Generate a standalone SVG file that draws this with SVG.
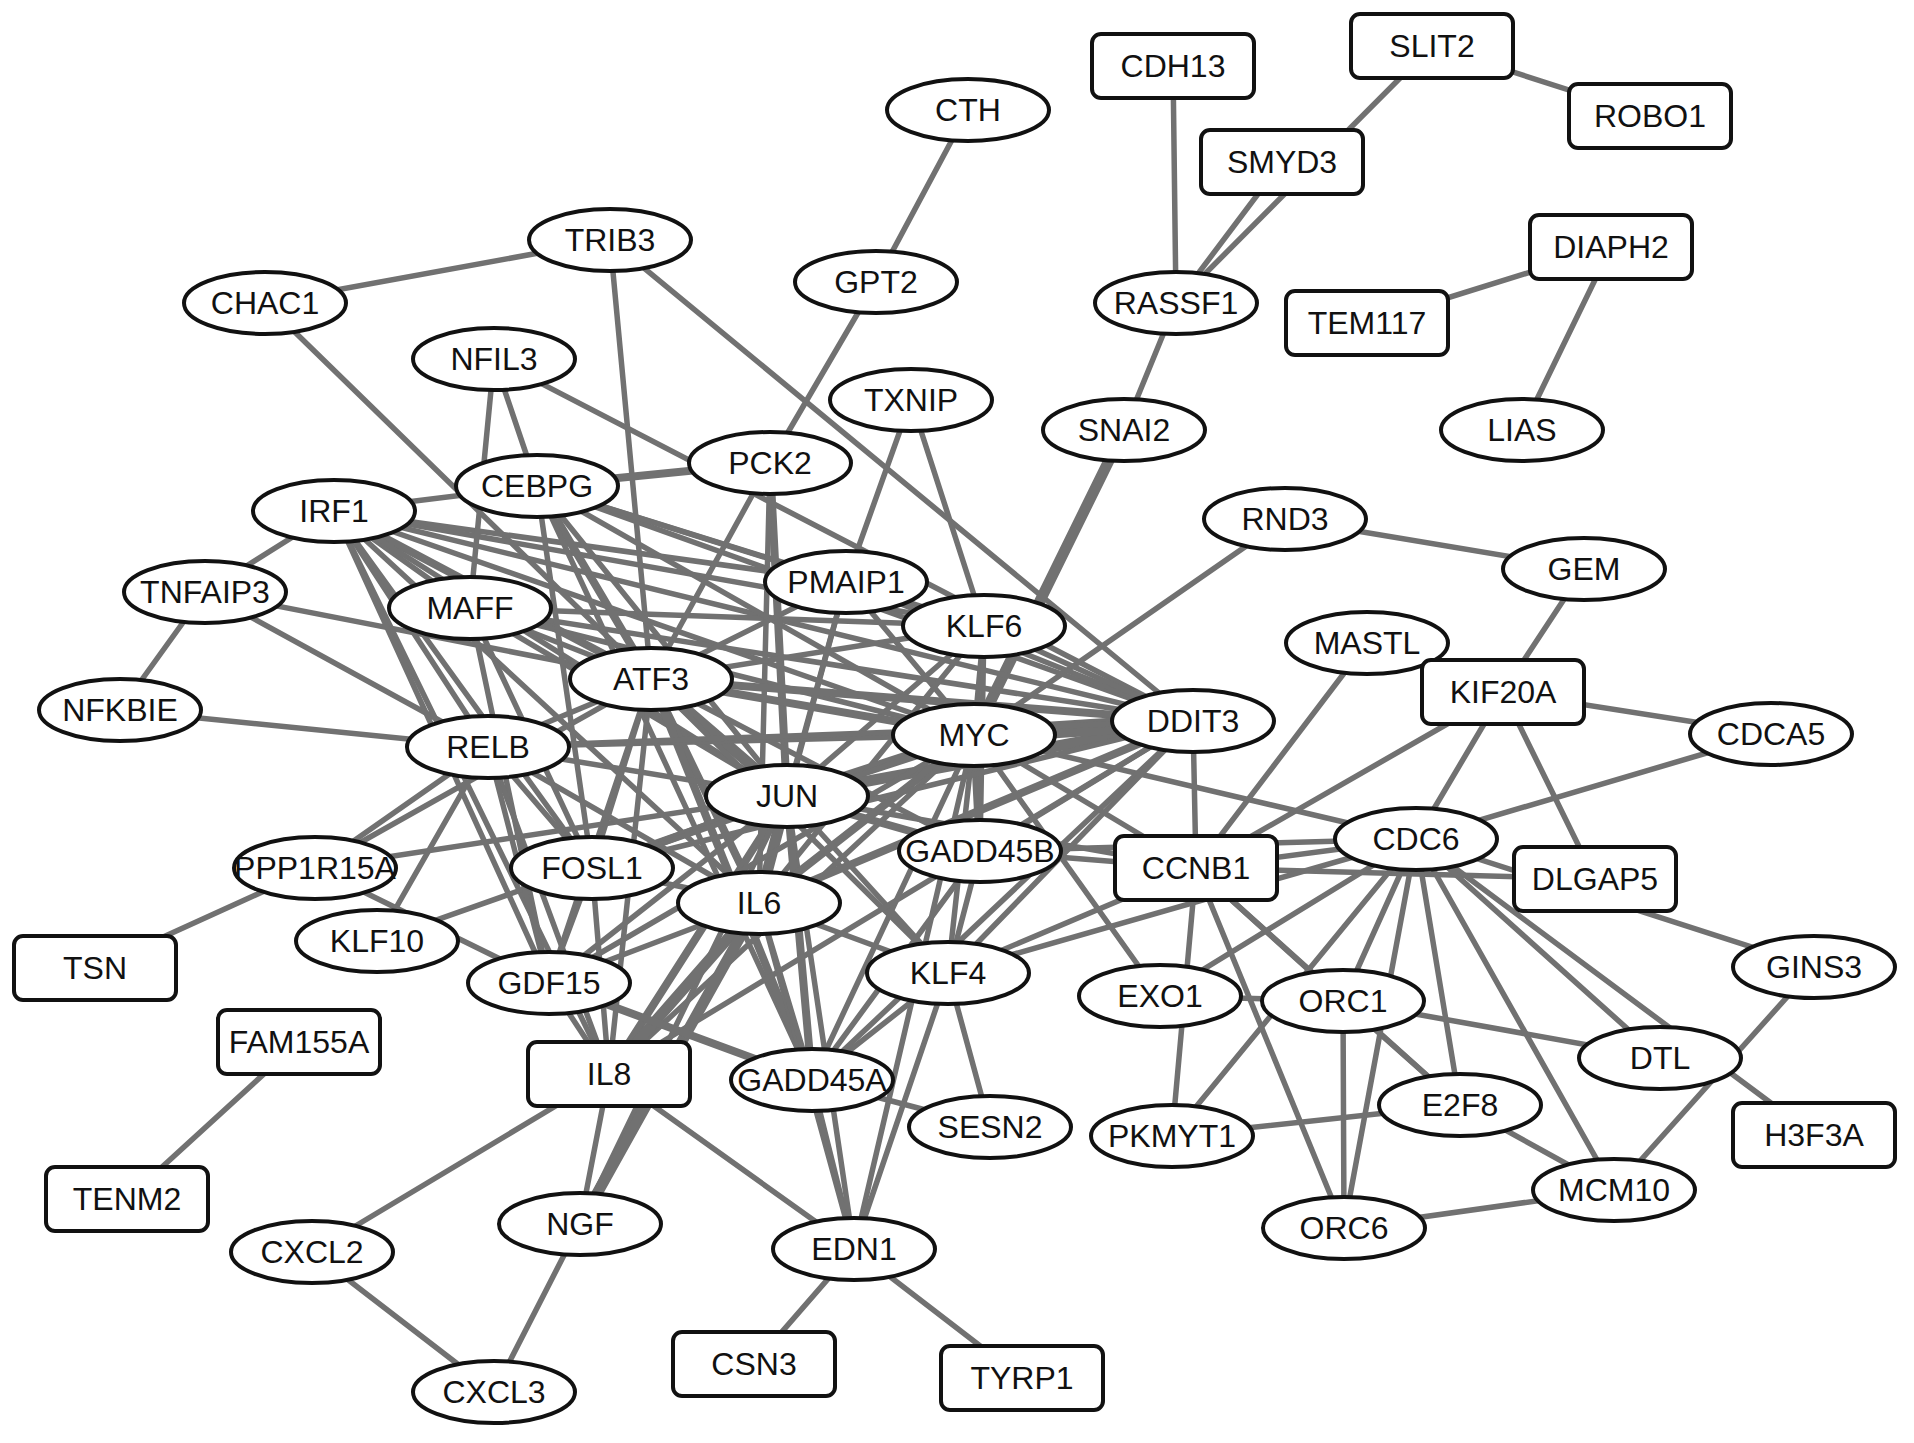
<svg xmlns="http://www.w3.org/2000/svg" width="1914" height="1443" viewBox="0 0 1914 1443">
<style>
.bg{fill:#fff}
#edges line{stroke:#717171;stroke-width:5.5;stroke-linecap:round}
#edges line.m{stroke-width:8}
#edges line.t{stroke-width:11}
#edges line.x{stroke-width:17}
.n ellipse,.n rect{fill:#fff;stroke:#111;stroke-width:4}
.n text{font-family:"Liberation Sans",Arial,sans-serif;font-size:32px;fill:#111;text-anchor:middle}
</style>
<rect class="bg" x="0" y="0" width="1914" height="1443"/>
<g id="edges">
<line x1="968" y1="110" x2="876" y2="282"/>
<line x1="876" y1="282" x2="770" y2="463"/>
<line x1="610" y1="240" x2="265" y2="303"/>
<line x1="610" y1="240" x2="651" y2="679"/>
<line x1="610" y1="240" x2="1193" y2="721"/>
<line x1="265" y1="303" x2="651" y2="679"/>
<line x1="1173" y1="66" x2="1176" y2="303"/>
<line x1="1282" y1="162" x2="1176" y2="303"/>
<line x1="1432" y1="46" x2="1176" y2="303"/>
<line x1="1432" y1="46" x2="1650" y2="116"/>
<line x1="1611" y1="247" x2="1367" y2="323"/>
<line x1="1611" y1="247" x2="1522" y2="430"/>
<line x1="1176" y1="303" x2="1124" y2="430"/>
<line class="t" x1="1124" y1="430" x2="974" y2="735"/>
<line x1="1285" y1="519" x2="1584" y2="569"/>
<line x1="1285" y1="519" x2="974" y2="735"/>
<line x1="1584" y1="569" x2="1503" y2="692"/>
<line x1="1503" y1="692" x2="1771" y2="734"/>
<line x1="1503" y1="692" x2="1595" y2="879"/>
<line x1="1503" y1="692" x2="1416" y2="839"/>
<line x1="1503" y1="692" x2="1196" y2="868"/>
<line x1="1367" y1="643" x2="1196" y2="868"/>
<line x1="1771" y1="734" x2="1416" y2="839"/>
<line x1="1416" y1="839" x2="1814" y2="967"/>
<line x1="1416" y1="839" x2="1196" y2="868"/>
<line x1="1196" y1="868" x2="1595" y2="879"/>
<line x1="1814" y1="967" x2="1614" y2="1190"/>
<line x1="1416" y1="839" x2="1814" y2="1135"/>
<line x1="1416" y1="839" x2="1660" y2="1058"/>
<line x1="1416" y1="839" x2="1614" y2="1190"/>
<line x1="1416" y1="839" x2="1460" y2="1105"/>
<line x1="1416" y1="839" x2="1344" y2="1228"/>
<line x1="1416" y1="839" x2="1343" y2="1001"/>
<line x1="1416" y1="839" x2="1172" y2="1136"/>
<line x1="1416" y1="839" x2="1160" y2="996"/>
<line x1="1196" y1="868" x2="1343" y2="1001"/>
<line x1="1196" y1="868" x2="1460" y2="1105"/>
<line x1="1343" y1="1001" x2="1460" y2="1105"/>
<line x1="1343" y1="1001" x2="1344" y2="1228"/>
<line x1="1196" y1="868" x2="1344" y2="1228"/>
<line x1="1196" y1="868" x2="1172" y2="1136"/>
<line x1="1160" y1="996" x2="1343" y2="1001"/>
<line x1="1172" y1="1136" x2="1460" y2="1105"/>
<line x1="1460" y1="1105" x2="1614" y2="1190"/>
<line x1="1344" y1="1228" x2="1614" y2="1190"/>
<line x1="1343" y1="1001" x2="1660" y2="1058"/>
<line x1="974" y1="735" x2="1160" y2="996"/>
<line x1="974" y1="735" x2="1416" y2="839"/>
<line x1="974" y1="735" x2="1196" y2="868"/>
<line x1="1193" y1="721" x2="1196" y2="868"/>
<line x1="980" y1="851" x2="1196" y2="868"/>
<line x1="980" y1="851" x2="1416" y2="839"/>
<line x1="948" y1="973" x2="1196" y2="868"/>
<line x1="948" y1="973" x2="1416" y2="839"/>
<line x1="787" y1="796" x2="1196" y2="868"/>
<line x1="315" y1="868" x2="95" y2="968"/>
<line x1="299" y1="1042" x2="127" y2="1199"/>
<line x1="312" y1="1252" x2="494" y2="1392"/>
<line x1="580" y1="1224" x2="494" y2="1392"/>
<line x1="609" y1="1074" x2="312" y2="1252"/>
<line x1="609" y1="1074" x2="580" y2="1224"/>
<line x1="854" y1="1249" x2="754" y2="1364"/>
<line x1="854" y1="1249" x2="1022" y2="1378"/>
<line x1="609" y1="1074" x2="854" y2="1249"/>
<line x1="812" y1="1080" x2="854" y2="1249"/>
<line x1="948" y1="973" x2="854" y2="1249"/>
<line x1="974" y1="735" x2="854" y2="1249"/>
<line x1="787" y1="796" x2="854" y2="1249"/>
<line x1="812" y1="1080" x2="990" y2="1127"/>
<line x1="948" y1="973" x2="990" y2="1127"/>
<line x1="205" y1="592" x2="120" y2="710"/>
<line x1="205" y1="592" x2="334" y2="511"/>
<line x1="120" y1="710" x2="488" y2="747"/>
<line x1="205" y1="592" x2="488" y2="747"/>
<line x1="205" y1="592" x2="651" y2="679"/>
<line x1="334" y1="511" x2="537" y2="486"/>
<line x1="334" y1="511" x2="470" y2="608"/>
<line x1="334" y1="511" x2="488" y2="747"/>
<line class="m" x1="334" y1="511" x2="651" y2="679"/>
<line x1="334" y1="511" x2="787" y2="796"/>
<line x1="334" y1="511" x2="974" y2="735"/>
<line x1="334" y1="511" x2="1193" y2="721"/>
<line x1="334" y1="511" x2="984" y2="626"/>
<line x1="334" y1="511" x2="846" y2="582"/>
<line x1="334" y1="511" x2="759" y2="903"/>
<line x1="334" y1="511" x2="609" y2="1074"/>
<line x1="334" y1="511" x2="592" y2="868"/>
<line x1="334" y1="511" x2="549" y2="983"/>
<line x1="494" y1="359" x2="470" y2="608"/>
<line x1="494" y1="359" x2="537" y2="486"/>
<line x1="494" y1="359" x2="1193" y2="721"/>
<line x1="470" y1="608" x2="651" y2="679"/>
<line x1="470" y1="608" x2="787" y2="796"/>
<line x1="470" y1="608" x2="974" y2="735"/>
<line x1="470" y1="608" x2="1193" y2="721"/>
<line x1="470" y1="608" x2="984" y2="626"/>
<line x1="470" y1="608" x2="592" y2="868"/>
<line x1="470" y1="608" x2="549" y2="983"/>
<line class="m" x1="537" y1="486" x2="770" y2="463"/>
<line class="m" x1="537" y1="486" x2="651" y2="679"/>
<line x1="537" y1="486" x2="787" y2="796"/>
<line x1="537" y1="486" x2="974" y2="735"/>
<line x1="537" y1="486" x2="1193" y2="721"/>
<line x1="537" y1="486" x2="592" y2="868"/>
<line x1="537" y1="486" x2="812" y2="1080"/>
<line x1="537" y1="486" x2="846" y2="582"/>
<line x1="537" y1="486" x2="984" y2="626"/>
<line x1="770" y1="463" x2="651" y2="679"/>
<line class="m" x1="770" y1="463" x2="787" y2="796"/>
<line x1="770" y1="463" x2="759" y2="903"/>
<line x1="846" y1="582" x2="911" y2="400"/>
<line x1="846" y1="582" x2="651" y2="679"/>
<line x1="846" y1="582" x2="787" y2="796"/>
<line x1="846" y1="582" x2="974" y2="735"/>
<line x1="846" y1="582" x2="1193" y2="721"/>
<line x1="846" y1="582" x2="759" y2="903"/>
<line x1="911" y1="400" x2="984" y2="626"/>
<line x1="984" y1="626" x2="974" y2="735"/>
<line x1="984" y1="626" x2="651" y2="679"/>
<line x1="984" y1="626" x2="787" y2="796"/>
<line x1="984" y1="626" x2="1193" y2="721"/>
<line x1="984" y1="626" x2="759" y2="903"/>
<line x1="984" y1="626" x2="980" y2="851"/>
<line class="t" x1="651" y1="679" x2="787" y2="796"/>
<line class="m" x1="651" y1="679" x2="974" y2="735"/>
<line class="m" x1="651" y1="679" x2="1193" y2="721"/>
<line x1="651" y1="679" x2="592" y2="868"/>
<line class="m" x1="651" y1="679" x2="759" y2="903"/>
<line x1="651" y1="679" x2="609" y2="1074"/>
<line x1="651" y1="679" x2="549" y2="983"/>
<line class="m" x1="651" y1="679" x2="812" y2="1080"/>
<line x1="651" y1="679" x2="980" y2="851"/>
<line x1="651" y1="679" x2="948" y2="973"/>
<line x1="651" y1="679" x2="488" y2="747"/>
<line x1="651" y1="679" x2="315" y2="868"/>
<line class="t" x1="787" y1="796" x2="974" y2="735"/>
<line class="t" x1="787" y1="796" x2="1193" y2="721"/>
<line class="t" x1="787" y1="796" x2="759" y2="903"/>
<line class="m" x1="787" y1="796" x2="609" y2="1074"/>
<line class="m" x1="787" y1="796" x2="592" y2="868"/>
<line x1="787" y1="796" x2="488" y2="747"/>
<line class="m" x1="787" y1="796" x2="812" y2="1080"/>
<line class="m" x1="787" y1="796" x2="980" y2="851"/>
<line x1="787" y1="796" x2="948" y2="973"/>
<line x1="787" y1="796" x2="549" y2="983"/>
<line x1="787" y1="796" x2="315" y2="868"/>
<line x1="787" y1="796" x2="580" y2="1224"/>
<line x1="787" y1="796" x2="377" y2="941"/>
<line class="x" x1="974" y1="735" x2="1193" y2="721"/>
<line x1="974" y1="735" x2="812" y2="1080"/>
<line class="m" x1="974" y1="735" x2="980" y2="851"/>
<line x1="974" y1="735" x2="948" y2="973"/>
<line class="m" x1="974" y1="735" x2="759" y2="903"/>
<line x1="974" y1="735" x2="609" y2="1074"/>
<line x1="974" y1="735" x2="488" y2="747"/>
<line x1="974" y1="735" x2="592" y2="868"/>
<line x1="974" y1="735" x2="549" y2="983"/>
<line x1="1193" y1="721" x2="812" y2="1080"/>
<line x1="1193" y1="721" x2="980" y2="851"/>
<line class="m" x1="1193" y1="721" x2="759" y2="903"/>
<line x1="1193" y1="721" x2="609" y2="1074"/>
<line x1="1193" y1="721" x2="592" y2="868"/>
<line x1="1193" y1="721" x2="488" y2="747"/>
<line x1="1193" y1="721" x2="948" y2="973"/>
<line class="t" x1="759" y1="903" x2="609" y2="1074"/>
<line x1="759" y1="903" x2="488" y2="747"/>
<line x1="759" y1="903" x2="592" y2="868"/>
<line x1="759" y1="903" x2="549" y2="983"/>
<line x1="759" y1="903" x2="854" y2="1249"/>
<line class="t" x1="759" y1="903" x2="580" y2="1224"/>
<line x1="759" y1="903" x2="948" y2="973"/>
<line x1="759" y1="903" x2="812" y2="1080"/>
<line x1="609" y1="1074" x2="549" y2="983"/>
<line x1="609" y1="1074" x2="592" y2="868"/>
<line x1="609" y1="1074" x2="488" y2="747"/>
<line x1="488" y1="747" x2="315" y2="868"/>
<line x1="488" y1="747" x2="592" y2="868"/>
<line x1="488" y1="747" x2="549" y2="983"/>
<line x1="488" y1="747" x2="377" y2="941"/>
<line x1="592" y1="868" x2="549" y2="983"/>
<line x1="549" y1="983" x2="315" y2="868"/>
<line class="m" x1="549" y1="983" x2="812" y2="1080"/>
<line x1="812" y1="1080" x2="948" y2="973"/>
<line x1="812" y1="1080" x2="980" y2="851"/>
<line x1="948" y1="973" x2="980" y2="851"/>
</g>
<g id="nodes">
<g class="n" id="n-CTH"><ellipse cx="968" cy="110" rx="81" ry="31"/><text x="968" y="121">CTH</text></g>
<g class="n" id="n-TRIB3"><ellipse cx="610" cy="240" rx="81" ry="31"/><text x="610" y="251">TRIB3</text></g>
<g class="n" id="n-CHAC1"><ellipse cx="265" cy="303" rx="81" ry="31"/><text x="265" y="314">CHAC1</text></g>
<g class="n" id="n-GPT2"><ellipse cx="876" cy="282" rx="81" ry="31"/><text x="876" y="293">GPT2</text></g>
<g class="n" id="n-RASSF1"><ellipse cx="1176" cy="303" rx="81" ry="31"/><text x="1176" y="314">RASSF1</text></g>
<g class="n" id="n-NFIL3"><ellipse cx="494" cy="359" rx="81" ry="31"/><text x="494" y="370">NFIL3</text></g>
<g class="n" id="n-TXNIP"><ellipse cx="911" cy="400" rx="81" ry="31"/><text x="911" y="411">TXNIP</text></g>
<g class="n" id="n-SNAI2"><ellipse cx="1124" cy="430" rx="81" ry="31"/><text x="1124" y="441">SNAI2</text></g>
<g class="n" id="n-LIAS"><ellipse cx="1522" cy="430" rx="81" ry="31"/><text x="1522" y="441">LIAS</text></g>
<g class="n" id="n-CEBPG"><ellipse cx="537" cy="486" rx="81" ry="31"/><text x="537" y="497">CEBPG</text></g>
<g class="n" id="n-PCK2"><ellipse cx="770" cy="463" rx="81" ry="31"/><text x="770" y="474">PCK2</text></g>
<g class="n" id="n-IRF1"><ellipse cx="334" cy="511" rx="81" ry="31"/><text x="334" y="522">IRF1</text></g>
<g class="n" id="n-RND3"><ellipse cx="1285" cy="519" rx="81" ry="31"/><text x="1285" y="530">RND3</text></g>
<g class="n" id="n-GEM"><ellipse cx="1584" cy="569" rx="81" ry="31"/><text x="1584" y="580">GEM</text></g>
<g class="n" id="n-PMAIP1"><ellipse cx="846" cy="582" rx="81" ry="31"/><text x="846" y="593">PMAIP1</text></g>
<g class="n" id="n-TNFAIP3"><ellipse cx="205" cy="592" rx="81" ry="31"/><text x="205" y="603">TNFAIP3</text></g>
<g class="n" id="n-MAFF"><ellipse cx="470" cy="608" rx="81" ry="31"/><text x="470" y="619">MAFF</text></g>
<g class="n" id="n-KLF6"><ellipse cx="984" cy="626" rx="81" ry="31"/><text x="984" y="637">KLF6</text></g>
<g class="n" id="n-MASTL"><ellipse cx="1367" cy="643" rx="81" ry="31"/><text x="1367" y="654">MASTL</text></g>
<g class="n" id="n-ATF3"><ellipse cx="651" cy="679" rx="81" ry="31"/><text x="651" y="690">ATF3</text></g>
<g class="n" id="n-NFKBIE"><ellipse cx="120" cy="710" rx="81" ry="31"/><text x="120" y="721">NFKBIE</text></g>
<g class="n" id="n-DDIT3"><ellipse cx="1193" cy="721" rx="81" ry="31"/><text x="1193" y="732">DDIT3</text></g>
<g class="n" id="n-MYC"><ellipse cx="974" cy="735" rx="81" ry="31"/><text x="974" y="746">MYC</text></g>
<g class="n" id="n-CDCA5"><ellipse cx="1771" cy="734" rx="81" ry="31"/><text x="1771" y="745">CDCA5</text></g>
<g class="n" id="n-RELB"><ellipse cx="488" cy="747" rx="81" ry="31"/><text x="488" y="758">RELB</text></g>
<g class="n" id="n-JUN"><ellipse cx="787" cy="796" rx="81" ry="31"/><text x="787" y="807">JUN</text></g>
<g class="n" id="n-CDC6"><ellipse cx="1416" cy="839" rx="81" ry="31"/><text x="1416" y="850">CDC6</text></g>
<g class="n" id="n-GADD45B"><ellipse cx="980" cy="851" rx="81" ry="31"/><text x="980" y="862">GADD45B</text></g>
<g class="n" id="n-PPP1R15A"><ellipse cx="315" cy="868" rx="81" ry="31"/><text x="315" y="879">PPP1R15A</text></g>
<g class="n" id="n-FOSL1"><ellipse cx="592" cy="868" rx="81" ry="31"/><text x="592" y="879">FOSL1</text></g>
<g class="n" id="n-IL6"><ellipse cx="759" cy="903" rx="81" ry="31"/><text x="759" y="914">IL6</text></g>
<g class="n" id="n-KLF10"><ellipse cx="377" cy="941" rx="81" ry="31"/><text x="377" y="952">KLF10</text></g>
<g class="n" id="n-GINS3"><ellipse cx="1814" cy="967" rx="81" ry="31"/><text x="1814" y="978">GINS3</text></g>
<g class="n" id="n-KLF4"><ellipse cx="948" cy="973" rx="81" ry="31"/><text x="948" y="984">KLF4</text></g>
<g class="n" id="n-GDF15"><ellipse cx="549" cy="983" rx="81" ry="31"/><text x="549" y="994">GDF15</text></g>
<g class="n" id="n-EXO1"><ellipse cx="1160" cy="996" rx="81" ry="31"/><text x="1160" y="1007">EXO1</text></g>
<g class="n" id="n-ORC1"><ellipse cx="1343" cy="1001" rx="81" ry="31"/><text x="1343" y="1012">ORC1</text></g>
<g class="n" id="n-DTL"><ellipse cx="1660" cy="1058" rx="81" ry="31"/><text x="1660" y="1069">DTL</text></g>
<g class="n" id="n-GADD45A"><ellipse cx="812" cy="1080" rx="81" ry="31"/><text x="812" y="1091">GADD45A</text></g>
<g class="n" id="n-E2F8"><ellipse cx="1460" cy="1105" rx="81" ry="31"/><text x="1460" y="1116">E2F8</text></g>
<g class="n" id="n-SESN2"><ellipse cx="990" cy="1127" rx="81" ry="31"/><text x="990" y="1138">SESN2</text></g>
<g class="n" id="n-PKMYT1"><ellipse cx="1172" cy="1136" rx="81" ry="31"/><text x="1172" y="1147">PKMYT1</text></g>
<g class="n" id="n-MCM10"><ellipse cx="1614" cy="1190" rx="81" ry="31"/><text x="1614" y="1201">MCM10</text></g>
<g class="n" id="n-NGF"><ellipse cx="580" cy="1224" rx="81" ry="31"/><text x="580" y="1235">NGF</text></g>
<g class="n" id="n-ORC6"><ellipse cx="1344" cy="1228" rx="81" ry="31"/><text x="1344" y="1239">ORC6</text></g>
<g class="n" id="n-EDN1"><ellipse cx="854" cy="1249" rx="81" ry="31"/><text x="854" y="1260">EDN1</text></g>
<g class="n" id="n-CXCL2"><ellipse cx="312" cy="1252" rx="81" ry="31"/><text x="312" y="1263">CXCL2</text></g>
<g class="n" id="n-CXCL3"><ellipse cx="494" cy="1392" rx="81" ry="31"/><text x="494" y="1403">CXCL3</text></g>
<g class="n" id="n-SLIT2"><rect x="1351" y="14" width="162" height="64" rx="9"/><text x="1432" y="57">SLIT2</text></g>
<g class="n" id="n-CDH13"><rect x="1092" y="34" width="162" height="64" rx="9"/><text x="1173" y="77">CDH13</text></g>
<g class="n" id="n-ROBO1"><rect x="1569" y="84" width="162" height="64" rx="9"/><text x="1650" y="127">ROBO1</text></g>
<g class="n" id="n-SMYD3"><rect x="1201" y="130" width="162" height="64" rx="9"/><text x="1282" y="173">SMYD3</text></g>
<g class="n" id="n-DIAPH2"><rect x="1530" y="215" width="162" height="64" rx="9"/><text x="1611" y="258">DIAPH2</text></g>
<g class="n" id="n-TEM117"><rect x="1286" y="291" width="162" height="64" rx="9"/><text x="1367" y="334">TEM117</text></g>
<g class="n" id="n-KIF20A"><rect x="1422" y="660" width="162" height="64" rx="9"/><text x="1503" y="703">KIF20A</text></g>
<g class="n" id="n-CCNB1"><rect x="1115" y="836" width="162" height="64" rx="9"/><text x="1196" y="879">CCNB1</text></g>
<g class="n" id="n-DLGAP5"><rect x="1514" y="847" width="162" height="64" rx="9"/><text x="1595" y="890">DLGAP5</text></g>
<g class="n" id="n-TSN"><rect x="14" y="936" width="162" height="64" rx="9"/><text x="95" y="979">TSN</text></g>
<g class="n" id="n-FAM155A"><rect x="218" y="1010" width="162" height="64" rx="9"/><text x="299" y="1053">FAM155A</text></g>
<g class="n" id="n-IL8"><rect x="528" y="1042" width="162" height="64" rx="9"/><text x="609" y="1085">IL8</text></g>
<g class="n" id="n-H3F3A"><rect x="1733" y="1103" width="162" height="64" rx="9"/><text x="1814" y="1146">H3F3A</text></g>
<g class="n" id="n-TENM2"><rect x="46" y="1167" width="162" height="64" rx="9"/><text x="127" y="1210">TENM2</text></g>
<g class="n" id="n-CSN3"><rect x="673" y="1332" width="162" height="64" rx="9"/><text x="754" y="1375">CSN3</text></g>
<g class="n" id="n-TYRP1"><rect x="941" y="1346" width="162" height="64" rx="9"/><text x="1022" y="1389">TYRP1</text></g>
</g>
</svg>
